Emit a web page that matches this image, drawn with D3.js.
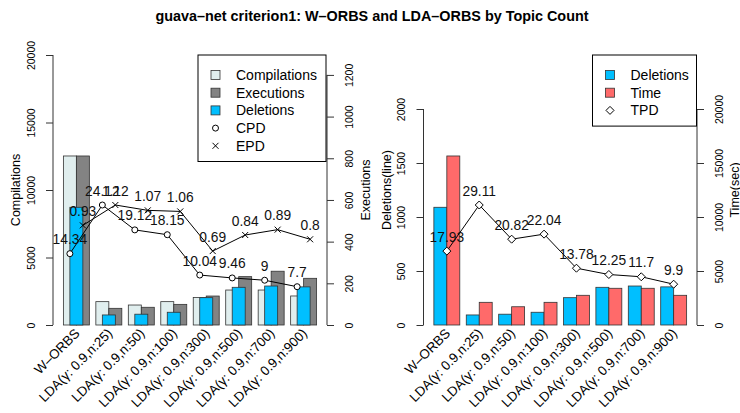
<html lang="en">
<head>
  <meta charset="UTF-8" />
  <title>guava-net criterion1</title>
  <style>
    body { margin: 0; background: #fff; }
    svg { display: block; font-family: "Liberation Sans", Arial, sans-serif; }
    .bar { stroke: #333; stroke-width: 0.8px; }
    .axis line { stroke: #333; stroke-width: 1px; }
    .axis text { fill: #000; }
    .series { fill: none; stroke: #000; stroke-width: 1px; }
    .mark { fill: #fff; stroke: #000; stroke-width: 1px; }
    .vlabel { font-size: 13.8px; fill: #111; text-anchor: middle; }
    .legend-box { fill: #fff; stroke: #000; stroke-width: 1px; }
    .legend text { font-size: 14px; fill: #000; }
    .xlabel { font-size: 13.3px; fill: #000; text-anchor: end; }
    .ytitle { font-size: 12.5px; fill: #000; text-anchor: middle; }
  </style>
</head>
<body>
  <svg width="740" height="413"></svg>

  <script src="https://d3js.org/d3.v7.min.js"></script>
  <script>
    const categories = [
      "W\u2013ORBS",
      "LDA(\u03b3: 0.9,n:25)",
      "LDA(\u03b3: 0.9,n:50)",
      "LDA(\u03b3: 0.9,n:100)",
      "LDA(\u03b3: 0.9,n:300)",
      "LDA(\u03b3: 0.9,n:500)",
      "LDA(\u03b3: 0.9,n:700)",
      "LDA(\u03b3: 0.9,n:900)"
    ];
    const compilations = [12520, 1730, 1480, 1730, 2040, 2590, 2590, 2150];
    const executions = [811, 80, 85, 99, 139, 232, 258, 224];
    const deletions = [1090, 93, 100, 118, 253, 349, 361, 353];
    const timeSec = [15650, 2100, 1690, 2100, 2750, 3400, 3400, 2750];
    const cpd = [14.34, 24.12, 19.12, 18.15, 10.04, 9.46, 9, 7.7];
    const epd = [0.93, 1.12, 1.07, 1.06, 0.69, 0.84, 0.89, 0.8];
    const tpd = [17.93, 29.11, 20.82, 22.04, 13.78, 12.25, 11.7, 9.9];

    const compTicks = [0, 5000, 10000, 15000, 20000];
    const execTicks = [0, 200, 400, 600, 800, 1000, 1200];
    const delTicks = [0, 500, 1000, 1500, 2000];
    const timeTicks = [0, 5000, 10000, 15000, 20000];

    const colors = {
      comp: "#E0EEEE",
      exec: "#838383",
      del: "#00BFFF",
      time: "#FF6A6A"
    };

    const svg = d3.select("svg");
    const plotTop = 55, plotBottom = 325;

    svg.append("text")
      .attr("x", 372).attr("y", 21)
      .attr("text-anchor", "middle")
      .style("font-weight", "bold")
      .style("font-size", "14.4px")
      .text("guava\u2013net criterion1: W\u2013ORBS and LDA\u2013ORBS by Topic Count");

    // R-like axis: line only between first and last tick, rotated labels
    function rAxis(x0, scale, ticks, side) {
      const dir = side === "left" ? -1 : 1;
      const ax = (side === "left" ? d3.axisLeft(scale) : d3.axisRight(scale))
        .tickValues(ticks).tickSize(7).tickFormat(d3.format("d"));
      const g = svg.append("g")
        .attr("class", "axis")
        .attr("transform", `translate(${x0},0)`)
        .call(ax)
        .attr("font-family", null)
        .attr("font-size", 10.5);
      g.select(".domain").remove();
      g.append("line")
        .attr("y1", scale(ticks[0]))
        .attr("y2", scale(ticks[ticks.length - 1]));
      g.selectAll(".tick text")
        .attr("x", 0).attr("y", 0)
        .attr("dy", "0.35em")
        .attr("text-anchor", "middle")
        .attr("transform", `translate(${dir * 22},0) rotate(-90)`);
      return g;
    }

    function yTitle(x, label) {
      svg.append("text")
        .attr("class", "ytitle")
        .attr("transform", `translate(${x},${(plotTop + plotBottom) / 2}) rotate(-90)`)
        .attr("dy", "0.35em")
        .text(label);
    }

    function xLabels(x) {
      svg.append("g").selectAll("text")
        .data(categories)
        .join("text")
        .attr("class", "xlabel")
        .attr("dominant-baseline", "central")
        .attr("transform", d => `translate(${x(d) + x.bandwidth() / 2 + 1},331) rotate(-45)`)
        .text(d => d);
    }

    function drawMark(g, kind, cx, cy) {
      if (kind === "circle") {
        g.append("circle").attr("class", "mark").attr("cx", cx).attr("cy", cy).attr("r", 3);
      } else if (kind === "cross") {
        g.append("path").attr("class", "series")
          .attr("d", `M${cx - 3},${cy - 3}L${cx + 3},${cy + 3}M${cx - 3},${cy + 3}L${cx + 3},${cy - 3}`);
      } else {
        g.append("path").attr("class", "mark")
          .attr("d", `M${cx},${cy - 4}L${cx + 4},${cy}L${cx},${cy + 4}L${cx - 4},${cy}Z`);
      }
    }

    function legend(x1, items) {
      const w = items.w, rowH = 17.7;
      const x0 = x1 - w;
      const g = svg.append("g").attr("class", "legend");
      g.append("rect").attr("class", "legend-box")
        .attr("x", x0).attr("y", plotTop)
        .attr("width", w).attr("height", items.rows.length * rowH + 18);
      items.rows.forEach((r, i) => {
        const cy = plotTop + 20 + i * rowH, cx = x0 + 17.5;
        if (r.fill) {
          g.append("rect").attr("class", "bar")
            .attr("x", cx - 4.5).attr("y", cy - 4.5)
            .attr("width", 9).attr("height", 9)
            .attr("fill", r.fill);
        } else {
          drawMark(g, r.mark, cx, cy);
        }
        g.append("text").attr("x", x0 + 38).attr("y", cy)
          .attr("dy", "0.36em").text(r.label);
      });
    }

    function series(pts, kind, values) {
      svg.append("path").attr("class", "series").attr("d", d3.line()(pts));
      const g = svg.append("g");
      pts.forEach(p => drawMark(g, kind, p[0], p[1]));
      svg.append("g").selectAll("text")
        .data(pts)
        .join("text")
        .attr("class", "vlabel")
        .attr("x", d => d[0])
        .attr("y", d => d[1] - 9.5)
        .text((d, i) => values[i]);
    }

    function bars(x, center, offset, bw, scale, values, fill) {
      svg.append("g").selectAll("rect")
        .data(categories)
        .join("rect")
        .attr("class", "bar")
        .attr("x", d => center(d) + offset)
        .attr("y", (d, i) => scale(values[i]))
        .attr("width", bw)
        .attr("height", (d, i) => plotBottom - scale(values[i]))
        .attr("fill", fill);
    }

    // ---------- left panel ----------
    const xL = d3.scaleBand().domain(categories).range([53, 327]).paddingOuter(0.22).paddingInner(0);
    const bwL = xL.step() * 0.4;
    const cL = d => xL(d) + xL.bandwidth() / 2;

    const yComp = d3.scaleLinear().domain([0, 20000]).range([plotBottom, plotTop]);
    const yExec = d3.scaleLinear()
      .domain([0, 20000 * d3.max(executions) / d3.max(compilations)]).range([plotBottom, plotTop]);
    const yDel = d3.scaleLinear().domain([0, 2500]).range([plotBottom, plotTop]);
    const yCpd = d3.scaleLinear().domain([0, d3.max(cpd) * 2.25]).range([plotBottom, plotTop]);
    const yEpd = d3.scaleLinear().domain([0, d3.max(epd) * 2.25]).range([plotBottom, plotTop]);

    bars(xL, cL, -bwL, bwL, yComp, compilations, colors.comp);
    bars(xL, cL, 0, bwL, yExec, executions, colors.exec);
    bars(xL, cL, -bwL / 2, bwL, yDel, deletions, colors.del);

    rAxis(53, yComp, compTicks, "left");
    rAxis(327, yExec, execTicks, "right");
    yTitle(16, "Compilations");
    yTitle(366, "Executions");
    xLabels(xL);

    series(categories.map((d, i) => [cL(d) - bwL / 2, yCpd(cpd[i])]), "circle", cpd);
    series(categories.map((d, i) => [cL(d) + bwL / 2, yEpd(epd[i])]), "cross", epd);

    legend(326, {
      w: 128,
      rows: [
        { label: "Compilations", fill: colors.comp },
        { label: "Executions", fill: colors.exec },
        { label: "Deletions", fill: colors.del },
        { label: "CPD", mark: "circle" },
        { label: "EPD", mark: "cross" }
      ]
    });

    // ---------- right panel ----------
    const xR = d3.scaleBand().domain(categories).range([423.5, 697]).paddingOuter(0.22).paddingInner(0);
    const bwR = xR.step() * 0.4;
    const cR = d => xR(d) + xR.bandwidth() / 2;

    const yDelR = d3.scaleLinear().domain([0, 2500]).range([plotBottom, plotTop]);
    const yTime = d3.scaleLinear().domain([0, 25000]).range([plotBottom, plotTop]);
    const yTpd = d3.scaleLinear().domain([0, d3.max(tpd) * 2.25]).range([plotBottom, plotTop]);

    bars(xR, cR, -bwR, bwR, yDelR, deletions, colors.del);
    bars(xR, cR, 0, bwR, yTime, timeSec, colors.time);

    rAxis(423.5, yDelR, delTicks, "left");
    rAxis(697, yTime, timeTicks, "right");
    yTitle(387, "Deletions(line)");
    yTitle(734.5, "Time(sec)");
    xLabels(xR);

    series(categories.map((d, i) => [cR(d), yTpd(tpd[i])]), "diamond", tpd);

    legend(696.5, {
      w: 104,
      rows: [
        { label: "Deletions", fill: colors.del },
        { label: "Time", fill: colors.time },
        { label: "TPD", mark: "diamond" }
      ]
    });
  </script>
</body>
</html>
